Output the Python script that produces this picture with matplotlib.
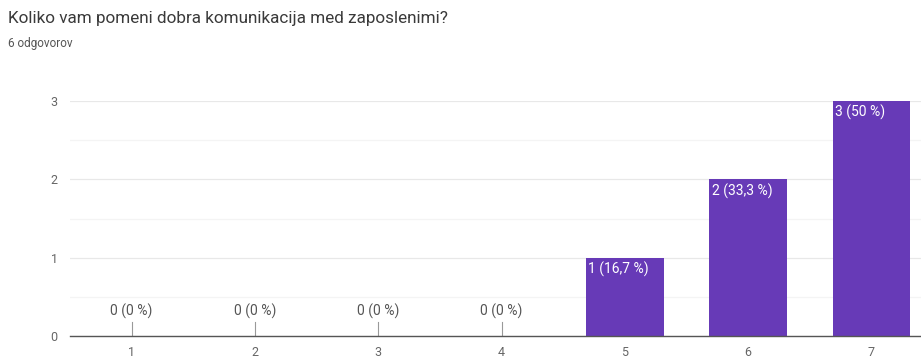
import matplotlib
matplotlib.use("Agg")
import matplotlib.pyplot as plt

plt.rcParams["font.family"] = ["Roboto", "DejaVu Sans"]

# survey answers on a 1-7 scale
categories = ["1", "2", "3", "4", "5", "6", "7"]
counts = [0, 0, 0, 0, 1, 2, 3]
labels = ["0 (0 %)", "0 (0 %)", "0 (0 %)", "0 (0 %)", "1 (16,7 %)", "2 (33,3 %)", "3 (50 %)"]

title = "Koliko vam pomeni dobra komunikacija med zaposlenimi?"
subtitle = "6 odgovorov"

purple = "#673ab7"

fig = plt.figure(figsize=(9.21, 3.58), dpi=100)
# plot area runs slightly past the right edge of the figure
ax = fig.add_axes([70 / 921, 22 / 358, 863 / 921, 235 / 358])

x = range(1, len(categories) + 1)
width = 0.63
ax.bar(x, counts, width=width, color=purple, zorder=2)

for xi, c, lab in zip(x, counts, labels):
    if c > 0:
        ax.text(xi - width / 2 + 0.02, c - 0.05, lab, color="white",
                fontsize=10, ha="left", va="top", zorder=3)
    else:
        ax.plot([xi, xi], [0, 0.18], color="#999999", lw=0.8, zorder=3)
        ax.text(xi, 0.22, lab, color="#555555", fontsize=10,
                ha="center", va="bottom", zorder=3)

ax.set_xlim(0.5, 7.5)
ax.set_ylim(0, 3)
ax.set_xticks(list(x))
ax.set_xticklabels(categories)
ax.set_yticks([0, 1, 2, 3])
ax.set_yticks([0.5, 1.5, 2.5], minor=True)
ax.tick_params(axis="both", length=0, labelsize=9, labelcolor="#666666")
ax.tick_params(axis="y", which="minor", length=0)
ax.tick_params(axis="y", pad=9)
ax.tick_params(axis="x", pad=7)

ax.grid(axis="y", which="major", color="#e8e8e8", lw=0.9, zorder=0)
ax.grid(axis="y", which="minor", color="#f4f4f4", lw=0.9, zorder=0)
for side in ["top", "right", "left"]:
    ax.spines[side].set_visible(False)
ax.spines["bottom"].set_color("#555555")
ax.spines["bottom"].set_linewidth(1.0)
ax.spines["bottom"].set_zorder(4)

fig.text(0.009, 1 - 19 / 358, title, fontsize=12.3, color="#3a3a3a", ha="left", va="center")
fig.text(0.009, 1 - 43 / 358, subtitle, fontsize=8.5, color="#555555", ha="left", va="center")

fig.savefig("out.png", dpi=100, facecolor="white")
